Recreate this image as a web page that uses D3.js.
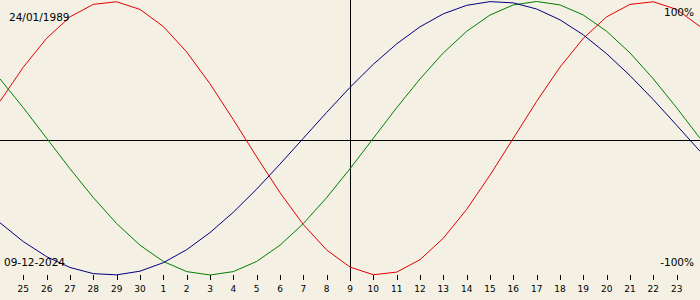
<!DOCTYPE html>
<html><head><meta charset="utf-8">
<script src="https://cdn.jsdelivr.net/npm/d3@7/dist/d3.min.js"></script>
<style>html,body{margin:0;padding:0;background:#f4f0e4;}svg{display:block;}</style>
</head><body>
<svg id="c" width="700" height="300"></svg>
<script>
// days shown: 24 Nov .. 24 Dec 2024 (index 0..30)
const dayLabels = ["24","25","26","27","28","29","30","1","2","3","4","5","6","7","8","9","10","11","12","13","14","15","16","17","18","19","20","21","22","23","24"];
const physical = [0.270,0.520,0.731,0.888,0.979,0.998,0.942,0.817,0.631,0.398,0.136,-0.136,-0.398,-0.631,-0.817,-0.942,-0.998,-0.979,-0.888,-0.731,-0.520,-0.270,0,0.270,0.520,0.731,0.888,0.979,0.998,0.942,0.817];
const emotional = [0.434,0.223,0,-0.223,-0.434,-0.624,-0.782,-0.901,-0.975,-1,-0.975,-0.901,-0.782,-0.624,-0.434,-0.223,0,0.223,0.434,0.624,0.782,0.901,0.975,1,0.975,0.901,0.782,0.624,0.434,0.223,0];
const intellectual = [-0.618,-0.756,-0.866,-0.945,-0.990,-0.999,-0.972,-0.910,-0.815,-0.690,-0.541,-0.372,-0.189,0,0.189,0.372,0.541,0.690,0.815,0.910,0.972,0.999,0.990,0.945,0.866,0.756,0.618,0.458,0.282,0.095,-0.095];
const todayIndex = 15;
const birthText = "24/01/1989";
const dateText = "09-12-2024";
const topLabel = "100%";
const bottomLabel = "-100%";

const W = 700, H = 300;
const svg = d3.select("#c");
svg.append("rect").attr("width",W).attr("height",H).attr("fill","#f4f0e4");

const x = d3.scaleLinear().domain([0, dayLabels.length-1]).range([0, W]);
const y = d3.scaleLinear().domain([-1, 1]).range([275, 1.5]);

// zero line and today line
svg.append("line").attr("x1",0).attr("x2",W).attr("y1",140.5).attr("y2",140.5)
  .attr("stroke","#000").attr("stroke-width",1).attr("shape-rendering","crispEdges");
svg.append("line").attr("x1",Math.round(x(todayIndex))+0.5).attr("x2",Math.round(x(todayIndex))+0.5)
  .attr("y1",0).attr("y2",281).attr("stroke","#000").attr("stroke-width",1).attr("shape-rendering","crispEdges");

// axis ticks
const ticksIdx = d3.range(1, dayLabels.length-1);
const axisG = svg.append("g");
axisG.selectAll("line").data(ticksIdx).join("line")
  .attr("x1",d=>Math.round(x(d))+0.5).attr("x2",d=>Math.round(x(d))+0.5)
  .attr("y1",275).attr("y2",280).attr("stroke","#000").attr("shape-rendering","crispEdges");
axisG.selectAll("text").data(ticksIdx).join("text")
  .attr("x",d=>x(d)).attr("y",292).attr("text-anchor","middle")
  .attr("font-family","DejaVu Sans, Verdana, sans-serif").attr("font-size","9px")
  .attr("fill","#000").text(d=>dayLabels[d]);

const line = d3.line().x((d,i)=>x(i)).y(d=>y(d));
const series = [[physical,"#e00000"],[emotional,"#008000"],[intellectual,"#000080"]];
series.forEach(([vals,col])=>{
  svg.append("path").datum(vals).attr("d",line).attr("fill","none")
    .attr("stroke",col).attr("stroke-width",1);
});

const tf = "DejaVu Sans, Verdana, sans-serif";
svg.append("text").attr("x",9).attr("y",21).attr("font-family",tf).attr("font-size","10.5px").text(birthText);
svg.append("text").attr("x",4).attr("y",266).attr("font-family",tf).attr("font-size","10.5px").text(dateText);
svg.append("text").attr("x",694).attr("y",16).attr("text-anchor","end").attr("font-family",tf).attr("font-size","10.5px").text(topLabel);
svg.append("text").attr("x",694).attr("y",266).attr("text-anchor","end").attr("font-family",tf).attr("font-size","10.5px").text(bottomLabel);
</script>
</body></html>
